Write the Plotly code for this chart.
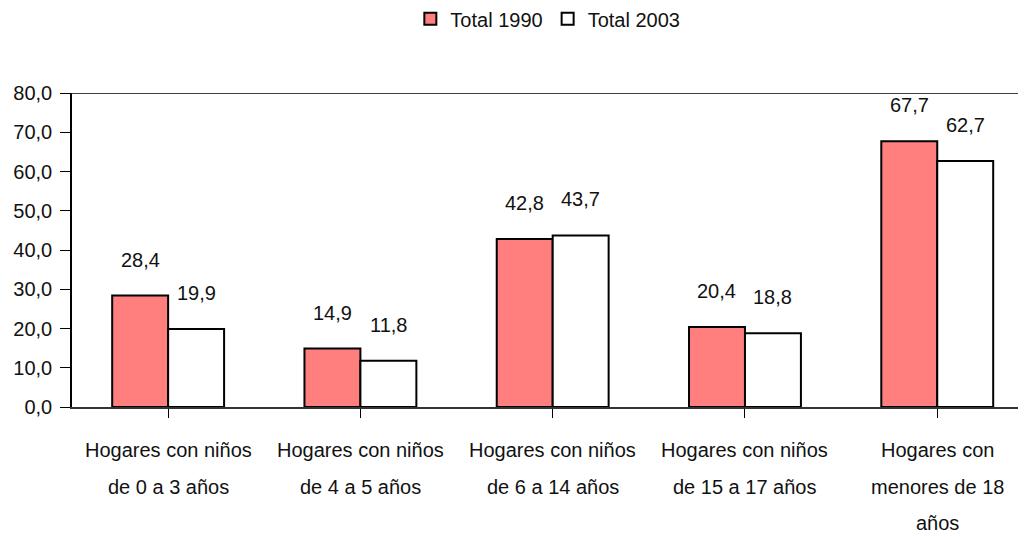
import plotly.graph_objects as go

categories = [
    "Hogares con niños\nde 0 a 3 años",
    "Hogares con niños\nde 4 a 5 años",
    "Hogares con niños\nde 6 a 14 años",
    "Hogares con niños\nde 15 a 17 años",
    "Hogares con\nmenores de 18\naños",
]
series_names = ["Total 1990", "Total 2003"]
total_1990 = [28.4, 14.9, 42.8, 20.4, 67.7]
total_2003 = [19.9, 11.8, 43.7, 18.8, 62.7]
y_ticks = [0, 10, 20, 30, 40, 50, 60, 70, 80]

FONT = "Liberation Sans, Arial, sans-serif"
FS = 20
TXT = "#111111"
idx = list(range(len(categories)))

fig = go.Figure()
fig.add_trace(go.Bar(x=idx, y=total_1990, name=series_names[0],
                     marker=dict(color="#FF7F7F", line=dict(color="black", width=2))))
fig.add_trace(go.Bar(x=idx, y=total_2003, name=series_names[1],
                     marker=dict(color="white", line=dict(color="black", width=2))))

def fmt(v):
    return f"{v:.1f}".replace(".", ",")

annotations = []
for vals, shift in ((total_1990, -28), (total_2003, 28)):
    for i, v in enumerate(vals):
        annotations.append(dict(x=i, y=v, xref="x", yref="y", text=fmt(v),
                                showarrow=False, xshift=shift, yshift=36,
                                yanchor="middle", font=dict(family=FONT, size=FS, color=TXT)))
# category labels, one annotation per line
for i, cat in enumerate(categories):
    for j, line in enumerate(cat.split("\n")):
        annotations.append(dict(x=i, y=0, xref="x", yref="y", text=line,
                                showarrow=False, yshift=-43 - 36.5 * j,
                                yanchor="middle", font=dict(family=FONT, size=FS, color=TXT)))

fig.update_layout(
    width=1024, height=537,
    margin=dict(l=72, r=6, t=93, b=130, autoexpand=False),
    paper_bgcolor="white", plot_bgcolor="white",
    barmode="group", bargap=0.418, bargroupgap=0,
    font=dict(family=FONT, size=FS, color=TXT),
    separators=",.",
    showlegend=True,
    legend=dict(orientation="h", xref="container", yref="container",
                x=0.535, xanchor="center", y=0.965, yanchor="middle",
                font=dict(family=FONT, size=FS, color=TXT), itemwidth=30,
                traceorder="normal"),
    annotations=annotations,
    xaxis=dict(range=[-0.5, 4.42], tickmode="array", tickvals=idx,
               ticktext=["" for _ in idx], tickson="boundaries",
               ticks="outside", ticklen=9, tickcolor="black",
               showline=True, linecolor="#333", linewidth=1.5,
               showgrid=False, zeroline=False, fixedrange=True),
    yaxis=dict(range=[0, 80], tickmode="array", tickvals=y_ticks,
               tickformat=".1f", ticks="outside", ticklen=10, tickcolor="black",
               showline=True, linecolor="black", linewidth=1.5,
               showgrid=False, zeroline=False, ticklabelstandoff=4),
    shapes=[dict(type="line", xref="paper", yref="y", x0=0, x1=1, y0=80, y1=80,
                 line=dict(color="black", width=1.5))],
)

fig.write_html("out.html", config={"displayModeBar": False},
               post_script="document.body.style.margin='0';")
